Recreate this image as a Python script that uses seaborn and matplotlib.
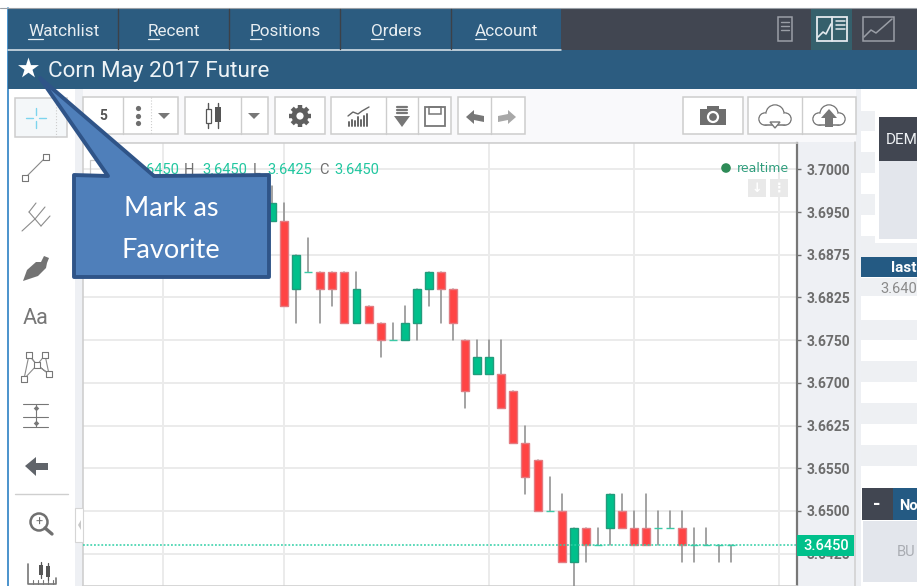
import numpy as np
import pandas as pd
import matplotlib
matplotlib.use('Agg')
import matplotlib.pyplot as plt
from matplotlib.patches import Rectangle, Polygon, Circle
import seaborn as sns

# Candle values
opens = [3.6925, 3.6925, 3.6825, 3.6850, 3.6850, 3.6850, 3.6850, 3.6775, 3.6800, 3.6775,
         3.6750, 3.6750, 3.6775, 3.6825, 3.6850, 3.6825, 3.6750, 3.6700, 3.6700, 3.6700,
         3.6675, 3.6600, 3.6575, 3.6500, 3.6500, 3.6425, 3.6475, 3.6450, 3.6475, 3.6500,
         3.6475, 3.6475, 3.6475, 3.6475, 3.6475, 3.6450, 3.6450, 3.6450, 3.6450]
closes = [3.6950, 3.6800, 3.6875, 3.6850, 3.6825, 3.6825, 3.6775, 3.6825, 3.6775, 3.6750,
          3.6750, 3.6775, 3.6825, 3.6850, 3.6825, 3.6775, 3.6675, 3.6725, 3.6725, 3.6650,
          3.6600, 3.6550, 3.6500, 3.6500, 3.6425, 3.6475, 3.6450, 3.6450, 3.6525, 3.6475,
          3.6450, 3.6450, 3.6475, 3.6475, 3.6450, 3.6450, 3.6450, 3.6450, 3.6450]
highs = [3.6975, 3.6950, 3.6875, 3.6900, 3.6850, 3.6850, 3.6850, 3.6850, 3.6800, 3.6775,
         3.6775, 3.6800, 3.6825, 3.6850, 3.6850, 3.6825, 3.6750, 3.6750, 3.6750, 3.6750,
         3.6675, 3.6625, 3.6575, 3.6550, 3.6525, 3.6475, 3.6475, 3.6475, 3.6525, 3.6525,
         3.6500, 3.6525, 3.6500, 3.6500, 3.6500, 3.6475, 3.6475, 3.6450, 3.6450]
lows = [3.6925, 3.6800, 3.6775, 3.6850, 3.6775, 3.6800, 3.6775, 3.6775, 3.6775, 3.6725,
        3.6750, 3.6750, 3.6750, 3.6800, 3.6775, 3.6750, 3.6650, 3.6700, 3.6700, 3.6650,
        3.6600, 3.6525, 3.6500, 3.6500, 3.6425, 3.6375, 3.6425, 3.6450, 3.6450, 3.6475,
        3.6450, 3.6450, 3.6450, 3.6475, 3.6425, 3.6425, 3.6450, 3.6425, 3.6425]

tick_values = [3.7, 3.69375, 3.6875, 3.68125, 3.675, 3.66875, 3.6625, 3.65625, 3.65, 3.64375]
tick_labels = ['3.7000', '3.6950', '3.6875', '3.6825', '3.6750', '3.6700', '3.6625', '3.6550', '3.6500', '3.6425']
x_grid = [-9, 1, 18, 30, 42]
last_price = 3.645
tabs = ['Watchlist', 'Recent', 'Positions', 'Orders', 'Account']

BLUE = '#2c5c80'
DARK = '#414651'
GREEN = '#00c08b'
RED = '#ff4444'
GRAY = '#707070'
FONT = 'Roboto'

sns.set_theme(style='white')
plt.rcParams['font.family'] = [FONT, 'DejaVu Sans']
plt.rcParams['patch.force_edgecolor'] = False

fig = plt.figure(figsize=(9.17, 5.86), dpi=100, facecolor='white')

# Page background
bg = fig.add_axes([0, 0, 1, 1], zorder=0)
bg.set_xlim(0, 917)
bg.set_ylim(586, 0)
bg.axis('off')


def box(ax, x0, y0, x1, y1, fc='white', ec='none', lw=1.0, z=2):
    ax.add_patch(Rectangle((x0, y0), x1 - x0, y1 - y0, facecolor=fc, edgecolor=ec, linewidth=lw, zorder=z))


box(bg, 8, 89, 917, 586, fc='#eef0f4', z=1)
box(bg, 8, 89, 75, 586)
box(bg, 83, 89, 856, 142, fc='#f9f9fb')
box(bg, 861, 89, 917, 586)
bg.plot([7.5, 7.5], [8, 586], color='#2c80c4', lw=1.2, zorder=3)

# Right hand stripes
for y0, y1 in [(111, 131), (152, 173), (194, 215), (236, 257), (278, 296), (320, 340), (361, 382),
               (403, 424), (445, 466)]:
    box(bg, 861, y0, 917, y1, fc='#eef0f3', z=3)

# Candles
df = pd.DataFrame({'open': opens, 'close': closes, 'high': highs, 'low': lows})
df['candle'] = range(len(df))
wicks = df.melt(id_vars='candle', value_vars=['low', 'high'], value_name='price')

ax = fig.add_axes([83 / 917, 0, (797 - 83) / 917, (586 - 143) / 586], zorder=1)
ax.set_facecolor('white')
sns.lineplot(data=wicks, x='candle', y='price', units='candle', estimator=None, sort=False,
             color='#8a8a8a', lw=1.1, legend=False, ax=ax, zorder=3)
up = df['close'] >= df['open']
flat = df['close'] == df['open']
for mask, fc, ec in [(up & ~flat, GREEN, '#229c7c'), (~up, RED, '#e27c82'), (flat, GREEN, '#3cc9a6')]:
    part = df[mask]
    ax.bar(part['candle'], part['close'] - part['open'], bottom=part['open'], width=0.66,
           color=fc, edgecolor=ec, linewidth=1.0, zorder=4)
ax.axhline(last_price, color='#2fcfa5', lw=1.1, ls=(0, (1.2, 1.2)), zorder=5)

ax.set_xlim(-15.66, 43.5)
ax.set_ylim(3.63901, 3.70385)
ax.set_xticks(x_grid)
ax.set_xticklabels([])
ax.set_yticks(tick_values)
ax.set_yticklabels(tick_labels, fontsize=10, color='#6c6c6c', fontweight='bold')
ax.yaxis.tick_right()
ax.tick_params(axis='y', length=3, width=1, color=GRAY, pad=4, right=True)
ax.tick_params(axis='x', length=0)
ax.grid(True, color='#ebebeb', lw=1.4)
ax.set_axisbelow(True)
ax.set_xlabel('')
ax.set_ylabel('')
for side in ['top', 'left', 'bottom']:
    ax.spines[side].set_color('#cfcfcf')
    ax.spines[side].set_linewidth(1.2)
ax.spines['right'].set_color('#777777')
ax.spines['right'].set_linewidth(1.6)

# Everything else on top of the chart
fg = fig.add_axes([0, 0, 1, 1], zorder=2)
fg.set_xlim(0, 917)
fg.set_ylim(586, 0)
fg.axis('off')
fg.patch.set_alpha(0)

# Header bars
box(fg, 8, 8, 561, 50, fc=BLUE)
box(fg, 561, 8, 917, 50, fc=DARK)
box(fg, 811, 9, 852, 50, fc='#35606c')
box(fg, 8, 50, 917, 89, fc=BLUE)
fg.plot([8, 561], [49.5, 49.5], color='#dfe8ee', lw=1.1, zorder=3)
fg.plot([0, 917], [8, 8], color='#9aa0a6', lw=0.8, zorder=3)
for x in [118, 229, 340, 451]:
    fg.plot([x, x], [9, 49], color='#3c4148', lw=1, zorder=3)

tab_x = [28, 148, 250, 371, 475]
for name, x in zip(tabs, tab_x):
    fg.text(x, 31, name, color='#e8eef2', fontsize=12.3, va='center', ha='left', zorder=4)
    probe = fg.text(x, 31, name[0], fontsize=12.3, alpha=0)
    one = probe.get_window_extent(fig.canvas.get_renderer())
    probe.remove()
    fg.plot([x, x + one.width], [38.5, 38.5], color='#e8eef2', lw=0.9, zorder=4)

fg.scatter([28], [68], marker='*', s=250, color='white', linewidths=0, zorder=4)
fg.text(48, 72, 'Corn May 2017 Future', color='#eef3f6', fontsize=16.2, va='center', zorder=4)

# Top right view icons
ic = '#9a9ea6'
box(fg, 778, 17, 792, 41, fc='none', ec=ic, lw=1.1, z=4)
for y in [22, 26, 30]:
    fg.plot([781, 789], [y, y], color=ic, lw=1, zorder=4)
box(fg, 817, 17, 847, 41, fc='none', ec='#e4eaee', lw=1.3, z=4)
fg.plot([832, 832], [17, 41], color='#e4eaee', lw=1.3, zorder=4)
fg.plot([818, 823, 826, 831], [37, 32, 34, 24], color='#e4eaee', lw=1.2, zorder=4)
for y in [21, 25, 29]:
    fg.plot([836, 845], [y, y], color='#e4eaee', lw=1.1, zorder=4)
box(fg, 863, 17, 894, 41, fc='none', ec=ic, lw=1.1, z=4)
fg.plot([864, 871, 876, 883, 892], [37, 30, 33, 27, 19], color=ic, lw=1.1, zorder=4)

# Toolbar buttons
be = '#cdcdcd'
for x0, x1, divs in [(83, 178, [123]), (185, 268, [241]), (275, 325, []), (331, 451, [386, 418]),
                     (458, 525, [491]), (683, 743, []), (748, 856, [802])]:
    box(fg, x0, 97, x1, 134, fc='white', ec=be, lw=1.1, z=3)
    for d in divs:
        fg.plot([d, d], [97, 134], color=be, lw=1.0, zorder=3)
fg.plot([151, 151], [97, 134], color=be, lw=0.8, ls=':', zorder=3)

tb = '#6e6e6e'
fg.text(103, 116, '5', color='#555555', fontsize=10, fontweight='bold', ha='center', va='center', zorder=4)
fg.scatter([138, 138, 138], [108, 115.5, 123], s=14, color=tb, linewidths=0, zorder=4)
for x in [164, 254]:
    fg.add_patch(Polygon([[x - 6, 113], [x + 6, 113], [x, 119]], facecolor='#777777', zorder=4))
# small candle button
fg.plot([208, 208], [103, 128], color='#555555', lw=1, zorder=4)
box(fg, 206, 109, 211, 123, fc='white', ec='#555555', lw=0.9, z=5)
fg.plot([218, 218], [103, 128], color='#555555', lw=1, zorder=4)
box(fg, 215, 107, 221, 122, fc='#555555', z=5)
# gear
for a in np.deg2rad([0, 45, 90, 135]):
    fg.plot([300 - 11 * np.cos(a), 300 + 11 * np.cos(a)], [116 - 11 * np.sin(a), 116 + 11 * np.sin(a)],
            color='#5f5f5f', lw=3.2, solid_capstyle='butt', zorder=4)
fg.add_patch(Circle((300, 116), 8.5, facecolor='#5f5f5f', edgecolor='none', zorder=4))
fg.add_patch(Circle((300, 116), 3.6, facecolor='white', edgecolor='none', zorder=5))
# indicators
for x, h in zip([349, 352, 355, 358, 361, 364, 367], [4, 6, 5, 9, 6, 10, 12]):
    fg.plot([x, x], [126, 126 - h], color='#666666', lw=1.4, zorder=4)
fg.plot([348, 353, 358, 362, 369], [116, 112, 114, 111, 107], color='#666666', lw=1, zorder=4)
# download arrow
for y in [107, 110, 113]:
    fg.plot([397, 407], [y, y], color='#777777', lw=1.6, zorder=4)
fg.add_patch(Polygon([[394, 116], [410, 116], [402, 127]], facecolor='#777777', zorder=4))
# save
box(fg, 425, 107, 445, 126, fc='none', ec='#777777', lw=1.3, z=4)
box(fg, 429, 107, 441, 114, fc='none', ec='#777777', lw=1.1, z=4)
# undo, redo
fg.add_patch(Polygon([[466, 117], [474, 110], [474, 114], [484, 116], [484, 122], [474, 120], [474, 124]],
                     facecolor='#777777', zorder=4))
fg.add_patch(Polygon([[516, 117], [508, 110], [508, 114], [498, 116], [498, 122], [508, 120], [508, 124]],
                     facecolor='#a8a8a8', zorder=4))
# camera
box(fg, 700, 109, 726, 125, fc='#6e6e6e', z=4)
box(fg, 707, 106, 719, 110, fc='#6e6e6e', z=4)
fg.add_patch(Circle((713, 117), 5, facecolor='#6e6e6e', edgecolor='white', linewidth=1.6, zorder=5))
# clouds
for cx, cf in [(775, 'white'), (829, 'white')]:
    for dx, dy, r in [(-10, 3, 6), (0, -2, 9), (10, 3, 6)]:
        fg.add_patch(Circle((cx + dx, 116 + dy), r, facecolor=cf, edgecolor='#777777', linewidth=1.1, zorder=4))
    for dx, dy, r in [(-10, 3, 5.4), (0, -2, 8.4), (10, 3, 5.4)]:
        fg.add_patch(Circle((cx + dx, 116 + dy), r, facecolor=cf, edgecolor='none', zorder=4))
    box(fg, cx - 10, 116, cx + 10, 125, fc='white', z=4)
    fg.plot([cx - 10, cx + 10], [125, 125], color='#777777', lw=1.1, zorder=4)
fg.add_patch(Polygon([[770, 122], [780, 122], [775, 128]], facecolor='white', edgecolor='#777777', linewidth=1, zorder=5))
fg.add_patch(Polygon([[821, 118], [837, 118], [829, 109]], facecolor='#777777', zorder=5))
box(fg, 825, 118, 833, 127, fc='#777777', z=5)

# Left tools
box(fg, 15, 98, 67, 137, fc='#f4f7f9', ec=be, lw=1.1, z=3)
fg.plot([56, 56], [98, 137], color=be, lw=0.8, ls=':', zorder=4)
for x0, y0, x1, y1 in [(36, 108, 36, 115), (36, 121, 36, 128), (26, 118, 33, 118), (39, 118, 46, 118)]:
    fg.plot([x0, x1], [y0, y1], color='#7dd4ee', lw=1, zorder=4)
fg.plot([25, 46], [178, 157], color='#888888', lw=0.8, zorder=4)
for x, y in [(25, 178), (46, 157)]:
    fg.scatter([x], [y], marker='s', s=18, facecolor='white', edgecolor='#777777', linewidths=0.8, zorder=5)
fg.plot([22, 35], [231, 219], color='#8c8c8c', lw=0.8, zorder=4)
fg.plot([29, 41], [212, 226], color='#8c8c8c', lw=0.8, zorder=4)
fg.plot([29, 36], [212, 203], color='#8c8c8c', lw=0.8, zorder=4)
fg.plot([35, 45], [219, 207], color='#8c8c8c', lw=0.8, zorder=4)
fg.plot([41, 50], [226, 216], color='#8c8c8c', lw=0.8, zorder=4)
fg.add_patch(Polygon([[23, 281], [27, 270], [36, 262], [41, 262], [44, 256], [49, 258], [47, 263], [46, 268], [38, 276]],
                     facecolor='#737373', zorder=4))
fg.text(36, 319, 'Aa', color='#777777', fontsize=15.5, ha='center', va='center', zorder=4)
xs = [24, 29, 37, 45, 49]
ys = [379, 355, 365, 355, 374]
fg.plot(xs, ys, color='#8c8c8c', lw=0.8, zorder=4)
fg.plot([29, 37, 49, 37, 24], [355, 365, 374, 365, 379], color='#8c8c8c', lw=0.8, zorder=4)
fg.scatter(xs, ys, marker='s', s=14, facecolor='white', edgecolor='#777777', linewidths=0.8, zorder=5)
for y in [404, 417, 427]:
    fg.plot([23, 48], [y, y], color='#777777', lw=0.8, zorder=4)
fg.plot([36, 36], [404, 427], color='#777777', lw=0.8, zorder=4)
fg.scatter([36, 36], [408, 423], marker='D', s=8, color='#777777', linewidths=0, zorder=4)
fg.add_patch(Polygon([[25, 466], [36, 457], [36, 463], [48, 463], [48, 470], [36, 470], [36, 476]], facecolor='#60646a', zorder=4))
fg.plot([15, 68], [494, 494], color='#cfcfcf', lw=1, zorder=4)
fg.add_patch(Circle((39, 522), 8.5, facecolor='none', edgecolor='#707070', linewidth=1.8, zorder=4))
fg.plot([45, 52], [528, 534], color='#707070', lw=2.4, zorder=4)
fg.text(39, 522, '+', color='#707070', fontsize=9, ha='center', va='center', zorder=4)
fg.plot([28, 28, 56, 56], [564, 584, 584, 578], color='#777777', lw=1.2, zorder=4)
for x in [33, 38, 43, 48, 53]:
    fg.plot([x, x], [584, 580], color='#777777', lw=0.8, zorder=4)
fg.plot([41, 41], [562, 578], color='#555555', lw=0.9, zorder=4)
fg.plot([48, 48], [563, 580], color='#555555', lw=0.9, zorder=4)
box(fg, 39, 565, 43, 575, fc='#555555', z=4)
box(fg, 46, 566, 50, 577, fc='#555555', z=4)
box(fg, 75, 508, 83, 542, fc='white', ec='#d5d5d5', lw=0.8, z=4)
fg.add_patch(Polygon([[81, 520], [81, 530], [78, 525]], facecolor='#c8c8c8', zorder=5))

# Quote line in the chart
box(fg, 90, 160, 110, 176, fc='none', ec='#c8c8c8', lw=0.9, z=3)
fg.text(116, 170, 'O', color=GRAY, fontsize=10.5, va='center', zorder=3)
for x, s, c in [(134, '3.6450', '#22c7a0'), (184, 'H', GRAY), (202, '3.6450', '#22c7a0'), (253, 'L', GRAY),
                (267, '3.6425', '#22c7a0'), (319, 'C', GRAY), (334, '3.6450', '#22c7a0')]:
    fg.text(x, 170, s, color=c, fontsize=10.5, va='center', zorder=3)

fg.add_patch(Circle((726, 168), 4.8, facecolor='#2e8b57', edgecolor='none', zorder=4))
fg.text(737, 168, 'realtime', color='#2f9d7c', fontsize=9, family='DejaVu Sans', va='center', zorder=4)
box(fg, 748, 179, 766, 197, fc='#e9e9e9', z=4)
box(fg, 770, 179, 788, 197, fc='#e9e9e9', z=4)
fg.text(757, 188, '\u2193', color='white', fontsize=9, fontweight='bold', ha='center', va='center', zorder=5)
fg.text(779, 188, '\u22ee', color='white', fontsize=9, fontweight='bold', ha='center', va='center', family='DejaVu Sans', zorder=5)

# Price flag
box(fg, 797, 535, 854, 556, fc=GREEN, z=4)
fg.text(826, 546, '3.6450', color='white', fontsize=10.5, ha='center', va='center', fontweight='medium', zorder=5)
fg.plot([855, 855], [142, 586], color='#cfcfcf', lw=1.1, zorder=3)

# Right hand panels
box(fg, 875, 110, 917, 243, fc='white', z=3)
box(fg, 879, 117, 917, 161, fc=DARK, z=4)
box(fg, 879, 161, 917, 239, fc='#e3e6ec', z=4)
fg.text(886, 140, 'DEM', color='#eef1f4', fontsize=11, va='center', zorder=5)
box(fg, 861, 257, 917, 277, fc='#245a83', z=4)
fg.text(891, 268, 'last', color='white', fontsize=11, fontweight='bold', va='center', zorder=5)
fg.text(880, 289, '3.640', color='#8a8a8a', fontsize=10.5, va='center', zorder=5)
box(fg, 862, 488, 893, 520, fc=DARK, z=4)
box(fg, 893, 488, 917, 520, fc='#245a83', z=4)
fg.text(877, 505, '-', color='white', fontsize=14, fontweight='bold', ha='center', va='center', zorder=5)
fg.text(899, 506, 'No', color='white', fontsize=10.5, fontweight='bold', va='center', zorder=5)
box(fg, 863, 521, 917, 582, fc='#e3e6ec', z=4)
fg.text(897, 552, 'BU', color='#a9acb2', fontsize=10.5, va='center', zorder=5)

# Callout
callout = [[74, 175], [108, 176], [40, 78], [154, 176], [269, 175], [269, 277], [74, 277]]
fg.add_patch(Polygon(callout, closed=True, facecolor='#4f7fba', edgecolor='#2f5488', linewidth=2.8,
                     joinstyle='round', zorder=10))
fg.text(171, 209, 'Mark as', color='white', fontsize=19.5, family='Lato', ha='center', va='center', zorder=11)
fg.text(171, 250, 'Favorite', color='white', fontsize=19.5, family='Lato', ha='center', va='center', zorder=11)

fig.savefig('out.png', dpi=100)
